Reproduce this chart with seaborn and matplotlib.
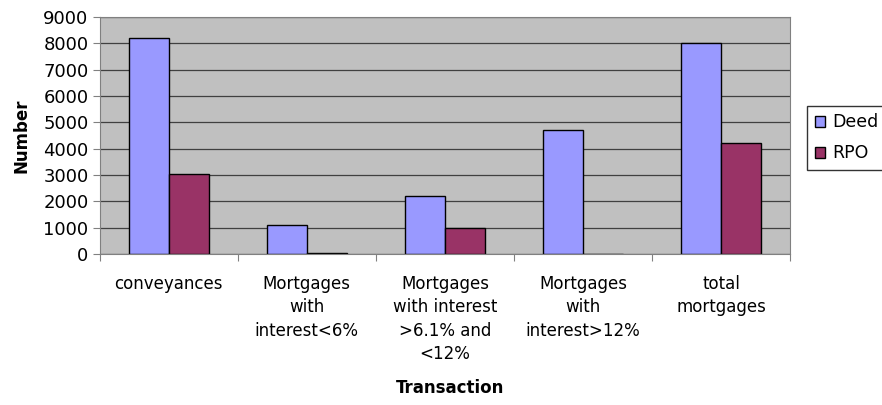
import pandas as pd
import seaborn as sns
import matplotlib.pyplot as plt
from matplotlib.ticker import FixedLocator

# Data
categories = ['conveyances', 'Mortgages\nwith\ninterest<6%', 'Mortgages\nwith interest\n>6.1% and\n<12%',
              'Mortgages\nwith\ninterest>12%', 'total\nmortgages']
deed = [8200, 1100, 2200, 4700, 8000]
rpo = [3050, 50, 1000, 0, 4200]

df = pd.DataFrame({
    'Transaction': categories * 2,
    'Number': deed + rpo,
    'Type': ['Deed'] * len(categories) + ['RPO'] * len(categories),
})

sns.set_style('white', {'text.color': 'black', 'axes.labelcolor': 'black',
                        'xtick.color': 'black', 'ytick.color': 'black'})
plt.rcParams['font.family'] = ['DejaVu Sans']

fig = plt.figure(figsize=(8.82, 4.05), dpi=100)
ax = fig.add_axes([0.113, 0.373, 0.783, 0.585])
ax.set_facecolor('#C0C0C0')

sns.barplot(data=df, x='Transaction', y='Number', hue='Type', order=categories,
            palette={'Deed': '#9999FF', 'RPO': '#993366'}, width=0.58,
            edgecolor='black', linewidth=1, ax=ax, saturation=1)

ax.set_ylim(0, 9000)
ax.set_yticks(range(0, 9001, 1000))
ax.set_xlim(-0.5, len(categories) - 0.5)
ax.grid(axis='y', color='#404040', linewidth=0.9)
ax.set_axisbelow(True)

# Excel-style ticks between categories
ax.xaxis.set_major_locator(FixedLocator([i - 0.5 for i in range(len(categories) + 1)]))
ax.set_xticklabels([''] * (len(categories) + 1))
for i, lab in enumerate(categories):
    ax.text(i, -800, lab, ha='center', va='top', fontsize=12, linespacing=1.38, color='black')
ax.tick_params(axis='x', length=5, color='#808080', direction='out', bottom=True)
ax.tick_params(axis='y', length=5, color='#808080', labelcolor='black', direction='out',
               left=True, labelsize=13, pad=3)

for side in ['top', 'right', 'left', 'bottom']:
    ax.spines[side].set_color('#808080')

ax.set_ylabel('Number', fontsize=12, fontweight='bold', labelpad=9, color='black')
ax.set_xlabel('')
fig.text(0.51, 0.02, 'Transaction', ha='center', va='bottom', fontsize=12,
         fontweight='bold', color='black')

leg = ax.legend(loc='center left', bbox_to_anchor=(1.012, 0.49), frameon=True, fancybox=False,
                edgecolor='black', fontsize=12.5, handlelength=0.6, handleheight=0.6,
                borderpad=0.45, labelspacing=0.75, handletextpad=0.4)
leg.get_frame().set_linewidth(1)
for t in leg.get_texts():
    t.set_color('black')

fig.savefig('out.png', dpi=100)
